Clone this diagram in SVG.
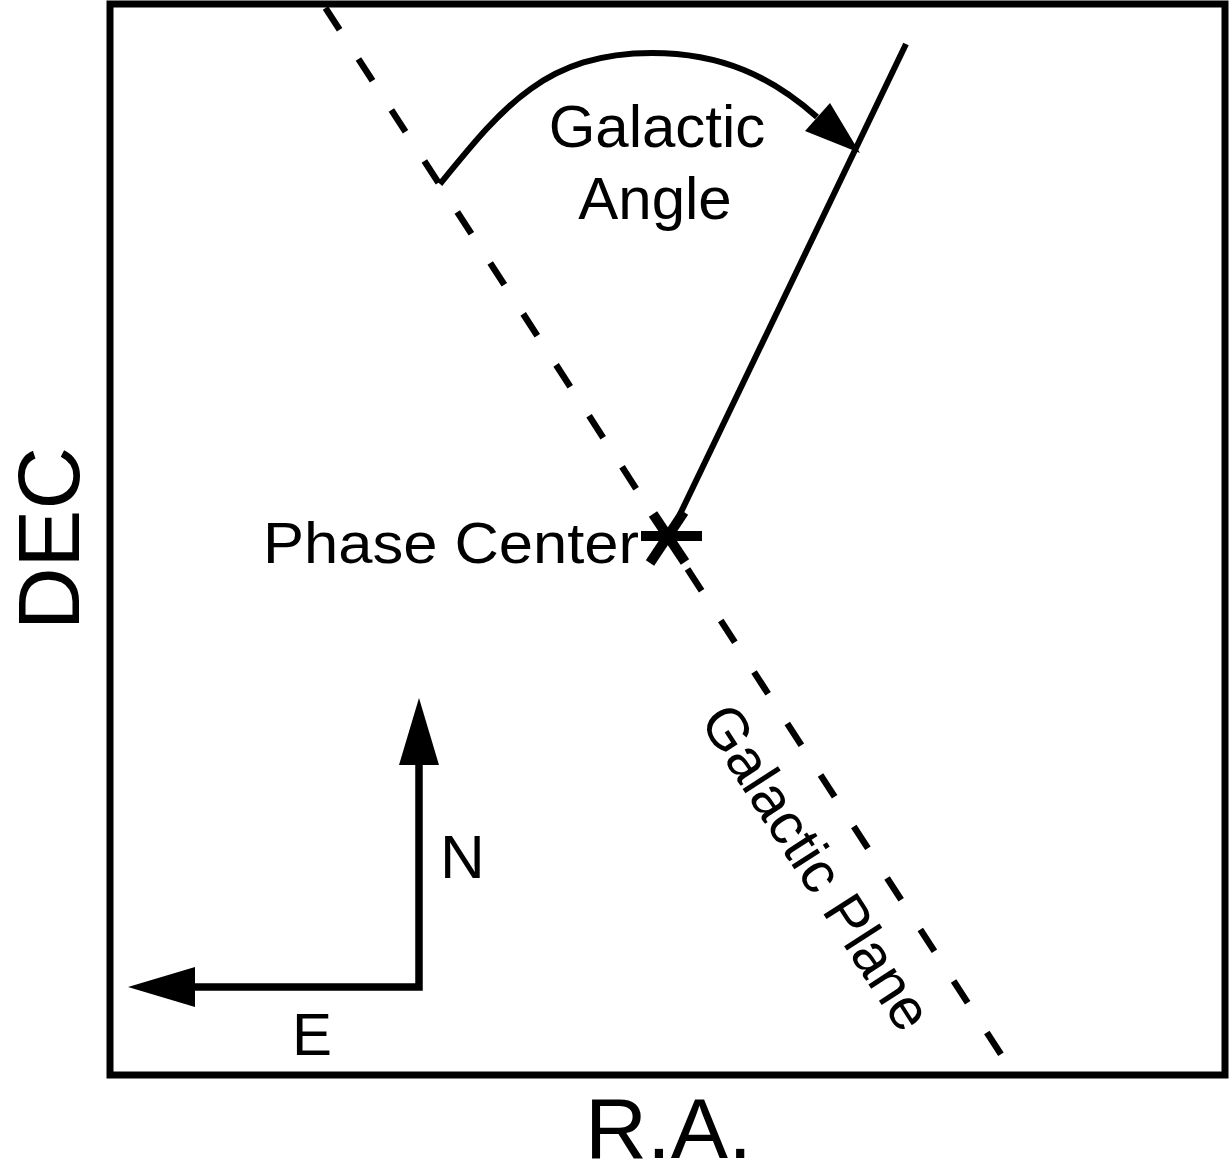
<svg xmlns="http://www.w3.org/2000/svg" width="1231" height="1176" viewBox="0 0 1231 1176">
<style>
.ln{fill:none;stroke:#000;stroke-width:6;stroke-linecap:butt;stroke-linejoin:miter}
.cmp{fill:none;stroke:#000;stroke-width:7.5;stroke-linecap:butt;stroke-linejoin:miter}
.star{fill:none;stroke:#000;stroke-width:10;stroke-linecap:butt}
.dash{fill:none;stroke:#000;stroke-width:6.5;stroke-linecap:butt}
.ah{fill:#000;stroke:none}
.t{font-family:"Liberation Sans",Arial,Helvetica,sans-serif;fill:#000}
</style>
<rect x="0" y="0" width="1231" height="1176" fill="#fff"/>
<g id="frame">
<rect x="110" y="4" width="1115" height="1071" fill="none" stroke="#000" stroke-width="7"/>
</g>
<g id="axis-labels">
<text class="t" font-size="87" text-anchor="middle" textLength="183" lengthAdjust="spacingAndGlyphs" transform="translate(79,538.5) rotate(-90)">DEC</text>
<text class="t" font-size="86" x="585" y="1158" textLength="167" lengthAdjust="spacingAndGlyphs">R.A.</text>
</g>
<g id="connectors">
<path id="galactic-plane-upper" class="dash" d="M325.5,8 L668,538" stroke-dasharray="26 34.7"/>
<path id="galactic-plane-lower" class="dash" d="M687.5,569 L1002.7,1057" stroke-dasharray="26 35.3"/>
<path id="position-angle-line" class="ln" d="M906,44 L670,535"/>
<path id="angle-arc" class="ln" d="M440,184 C502,108 545,53 652,53 C722,53 772,77 817,117"/>
<polygon class="ah" points="830,103 805,131 860,153"/>
<polyline id="compass" class="cmp" points="419,762 419,987 192,987"/>
<polygon class="ah" points="419,698 399,765 439,765"/>
<polygon class="ah" points="128,987 195,967 195,1007"/>
</g>
<g id="phase-center">
<g class="star">
<line x1="641" y1="536" x2="702" y2="536"/>
<line x1="653" y1="514" x2="685" y2="562"/>
<line x1="650" y1="563" x2="684" y2="512"/>
</g>
<text class="t" font-size="58" x="263" y="563" textLength="376" lengthAdjust="spacingAndGlyphs">Phase Center</text>
</g>
<g id="galactic-angle-label">
<text class="t" font-size="60" x="657" y="147" text-anchor="middle">Galactic</text>
<text class="t" font-size="60" x="655" y="219" text-anchor="middle">Angle</text>
</g>
<g id="galactic-plane-label">
<text class="t" font-size="58" text-anchor="middle" transform="translate(800,878) rotate(57.2)">Galactic Plane</text>
</g>
<g id="compass-labels">
<text class="t" font-size="62" x="440" y="878">N</text>
<text class="t" font-size="60" x="292" y="1055">E</text>
</g>
</svg>
